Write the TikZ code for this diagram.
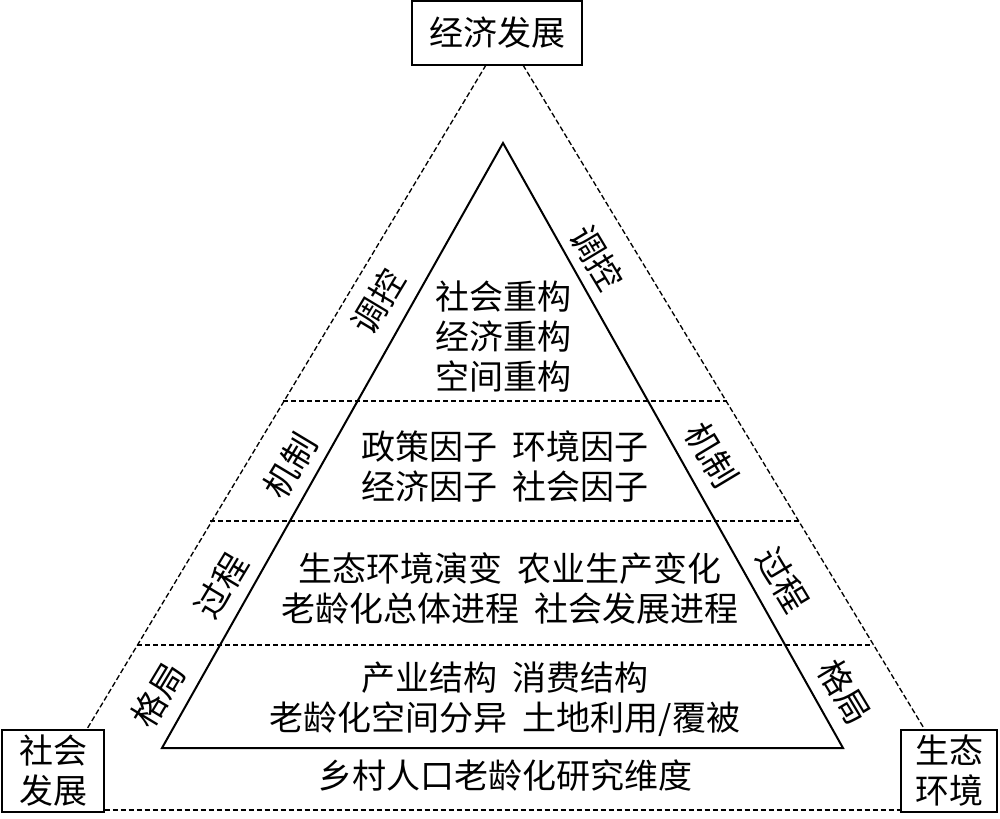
\documentclass[tikz,border=0pt]{standalone}
\usepackage{fontspec}
\setmainfont{Noto Sans CJK SC}
\begin{document}
\begin{tikzpicture}[x=0.75pt,y=-0.75pt,
  txt/.style={font=\fontsize{25.5}{30}\selectfont,inner sep=0pt,align=center},
  box/.style={draw,line width=1.5pt,font=\fontsize{25.5}{30}\selectfont,align=center,inner sep=0pt},
  dsh/.style={line width=1pt,dash pattern=on 4pt off 2pt}]
\useasboundingbox (0,0) rectangle (1000,818);
\node[box,minimum width=127.5pt,minimum height=48pt] (top) at (497,33) {经济发展};
\node[box,minimum width=76pt,minimum height=62pt] (left) at (53,771) {社会\\发展};
\node[box,minimum width=72pt,minimum height=61pt] (right) at (949,771) {生态\\环境};
\coordinate (tl) at (486,65);
\coordinate (tr) at (523,65);
\coordinate (bl) at (87,729);
\coordinate (br) at (925,730);
\draw[dsh] (tl) -- (bl);
\draw[dsh] (tr) -- (br);
\draw[dsh] (left.east|-0,810) -- (right.west|-0,810);
\coordinate (A) at (503,143);
\coordinate (B) at (162,748);
\coordinate (C) at (843,748);
\draw[line width=1.5pt] (A) -- (B) -- (C) -- cycle;
\draw[dsh] (283,401) -- (727,401);
\draw[dsh] (210,521) -- (800,521);
\draw[dsh] (137,645) -- (873,645);
\node[txt] (r1) at (503,337) {社会重构\\经济重构\\空间重构};
\node[txt] (r2) at (505,466) {政策因子\ \ 环境因子\\经济因子\ \ 社会因子};
\node[txt] (r3) at (510,588) {生态环境演变\ \ 农业生产变化\\老龄化总体进程\ \ 社会发展进程};
\node[txt] (r4) at (505,699) {产业结构\ \ 消费结构\\老龄化空间分异\ \ 土地利用/覆被};
\node[txt] (cap) at (505,776) {乡村人口老龄化研究维度};
\node[txt,rotate=59] (L1) at (378,302) {调控};
\node[txt,rotate=59] (L2) at (290,466) {机制};
\node[txt,rotate=59] (L3) at (221,586) {过程};
\node[txt,rotate=59] (L4) at (158,695) {格局};
\node[txt,rotate=-59] (R1) at (597,258) {调控};
\node[txt,rotate=-59] (R2) at (712,455) {机制};
\node[txt,rotate=-59] (R3) at (783,580) {过程};
\node[txt,rotate=-59] (R4) at (845,692) {格局};
\end{tikzpicture}
\end{document}
